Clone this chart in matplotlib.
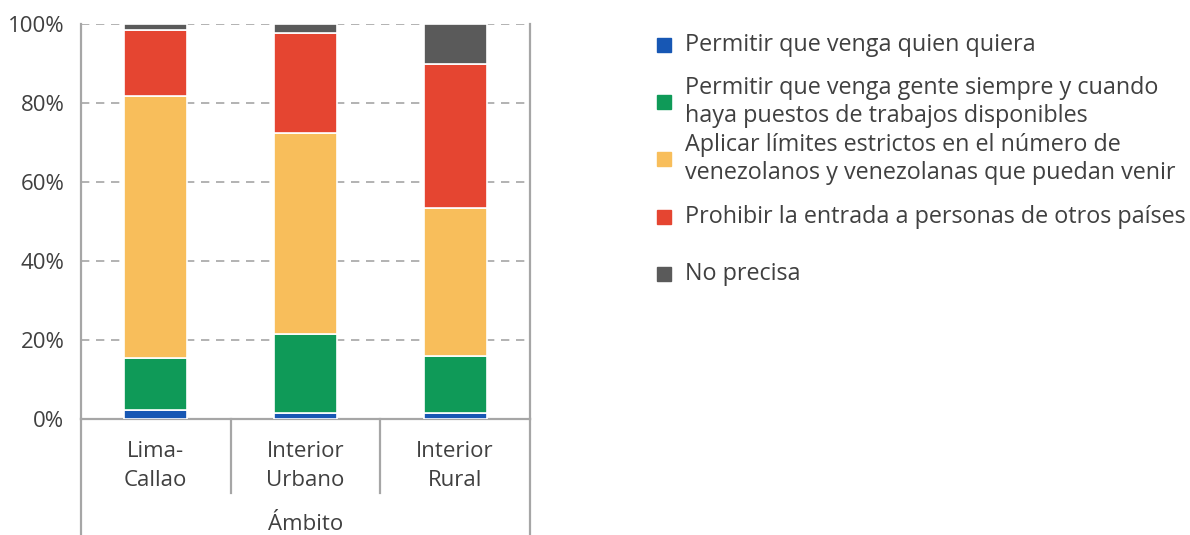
import matplotlib
matplotlib.use("Agg")
import matplotlib.pyplot as plt
from matplotlib.lines import Line2D
import numpy as np

plt.rcParams['font.family'] = ['Open Sans', 'DejaVu Sans']

ambitos = ["Lima-\nCallao", "Interior\nUrbano", "Interior\nRural"]
series = [
    "Permitir que venga quien quiera",
    "Permitir que venga gente siempre y cuando\nhaya puestos de trabajos disponibles",
    "Aplicar límites estrictos en el número de\nvenezolanos y venezolanas que puedan venir",
    "Prohibir la entrada a personas de otros países",
    "No precisa",
]
colores = ["#1757b4", "#0f9a58", "#f8be5b", "#e54531", "#5a5a5a"]

quien_quiera = [2.2, 1.6, 1.6]
con_trabajo = [13.2, 19.9, 14.3]
limites = [66.4, 51.0, 37.5]
prohibir = [16.7, 25.2, 36.6]
no_precisa = [1.5, 2.3, 10.0]
valores = [quien_quiera, con_trabajo, limites, prohibir, no_precisa]

texto = "#404040"
linea = "#a6a6a6"
W, H = 1190, 535

fig = plt.figure(figsize=(W / 100, H / 100), dpi=100)
ax = fig.add_axes([0.068, 0.2168, 0.3774, 0.7382])

x = np.arange(len(ambitos))
base = np.zeros(len(ambitos))
for vals, col in zip(valores, colores):
    ax.bar(x, vals, width=0.42, bottom=base, color=col, edgecolor="white", linewidth=1.2, zorder=3)
    base += np.array(vals)

ax.set_xlim(-0.5, 2.5)
ax.set_ylim(0, 100)
ax.set_yticks([0, 20, 40, 60, 80, 100])
ax.set_yticklabels([f"{v}%" for v in [0, 20, 40, 60, 80, 100]])
ax.tick_params(axis="y", length=0, pad=12, labelsize=16, labelcolor=texto)
ax.set_xticks([])
ax.yaxis.grid(True, linestyle=(0, (5, 4)), color=linea, linewidth=1.2, zorder=0)
for s in ["left", "right", "bottom"]:
    ax.spines[s].set_color(linea)
    ax.spines[s].set_linewidth(1.6)
ax.spines["top"].set_visible(False)

# separadores de categorias debajo del eje
tr = ax.get_xaxis_transform()
for b in [0.5, 1.5]:
    ax.plot([b, b], [0, -0.187], transform=tr, color=linea, lw=1.6, clip_on=False)
for b in [-0.5, 2.5]:
    ax.plot([b, b], [0, -0.3], transform=tr, color=linea, lw=1.6, clip_on=False)
for xi, lab in zip(x, ambitos):
    ax.text(xi, -0.12, lab, transform=tr, ha="center", va="center", fontsize=16,
            color=texto, linespacing=1.5)
ax.text(1, -0.268, "Ámbito", transform=tr, ha="center", va="center", fontsize=16, color=texto)

# leyenda manual, entradas espaciadas de forma uniforme
y0, paso = 45, 57.2
for i, (lab, col) in enumerate(zip(series, colores)):
    yc = 1 - (y0 + i * paso) / H
    fig.add_artist(Line2D([663.5 / W], [yc], transform=fig.transFigure, marker="s",
                          markersize=9.5, color=col, linestyle=""))
    fig.text(685 / W, yc, lab, ha="left", va="center", fontsize=16.8, color=texto,
             linespacing=1.22)

fig.savefig("out.png", dpi=100)
